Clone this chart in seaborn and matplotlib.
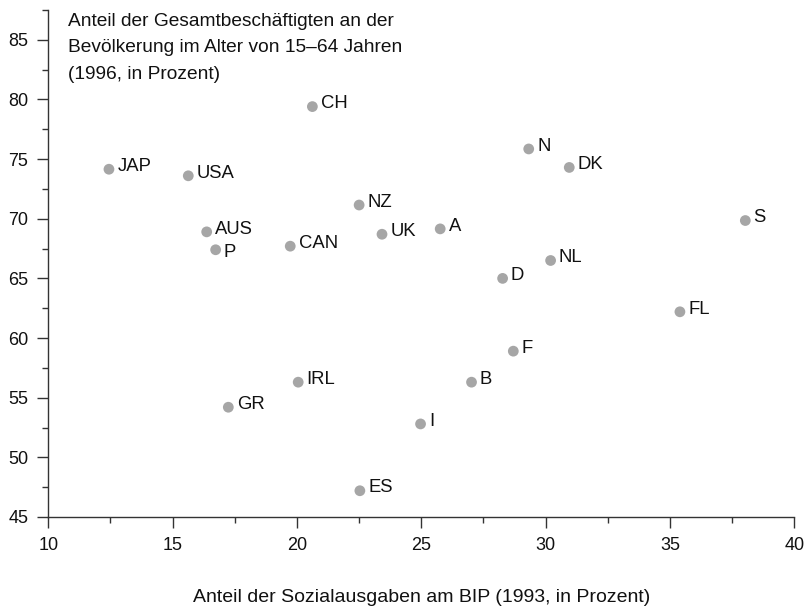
import pandas as pd
import numpy as np
import matplotlib
matplotlib.use("Agg")
import matplotlib.pyplot as plt
from matplotlib.ticker import MultipleLocator
import seaborn as sns

# Sozialausgaben (% BIP, 1993) vs. Beschaeftigungsquote (1996)
countries = ["JAP", "USA", "AUS", "P", "CH", "CAN", "NZ", "UK", "A", "N",
             "DK", "S", "NL", "D", "FL", "F", "B", "IRL", "GR", "I", "ES"]
sozial = [12.44, 15.63, 16.37, 16.73, 20.62, 19.73, 22.5, 23.42, 25.76, 29.32,
          30.95, 38.03, 30.2, 28.27, 35.4, 28.7, 27.02, 20.05, 17.24, 24.97, 22.53]
beschaeftigt = [74.15, 73.6, 68.9, 67.4, 79.4, 67.7, 71.15, 68.7, 69.15, 75.85,
                74.3, 69.85, 66.5, 65.0, 62.2, 58.9, 56.3, 56.3, 54.2, 52.8, 47.2]

df = pd.DataFrame({"land": countries, "x": sozial, "y": beschaeftigt})

sns.set_style("ticks")
plt.rcParams["font.family"] = ["Liberation Sans", "DejaVu Sans"]

fig = plt.figure(figsize=(8.06, 6.08), dpi=100)
ax = fig.add_axes([0.0599, 0.1497, 0.9256, 0.8339])

sns.scatterplot(data=df, x="x", y="y", ax=ax, color="#a6a6a6",
                s=60, edgecolor="none", zorder=3)

for _, r in df.iterrows():
    dy = -2 if r["land"] == "P" else 2
    ax.annotate(r["land"], (r["x"], r["y"]), xytext=(6, dy),
                textcoords="offset points", va="center", ha="left",
                fontsize=13.3, color="#111111")

ax.set_xlim(10, 40)
ax.set_ylim(45, 87.5)
ax.xaxis.set_major_locator(MultipleLocator(5))
ax.xaxis.set_minor_locator(MultipleLocator(2.5))
ax.yaxis.set_major_locator(MultipleLocator(5))
ax.yaxis.set_minor_locator(MultipleLocator(2.5))
ax.tick_params(which="major", length=8, width=1, color="#333333",
               labelsize=13, labelcolor="#111111", pad=6.5)
ax.tick_params(which="minor", length=4.2, width=1, color="#333333")

for side in ["top", "right"]:
    ax.spines[side].set_visible(False)
for side in ["left", "bottom"]:
    ax.spines[side].set_color("#333333")
    ax.spines[side].set_linewidth(1)

ax.set_xlabel("Anteil der Sozialausgaben am BIP (1993, in Prozent)",
              fontsize=14, color="#111111", labelpad=25)
ax.set_ylabel("")

ax.text(0.027, 0.994,
        "Anteil der Gesamtbeschäftigten an der\nBevölkerung im Alter von 15–64 Jahren\n(1996, in Prozent)",
        transform=ax.transAxes, ha="left", va="top", fontsize=13.8,
        color="#111111", linespacing=1.72)

fig.savefig("out.png", dpi=100)
